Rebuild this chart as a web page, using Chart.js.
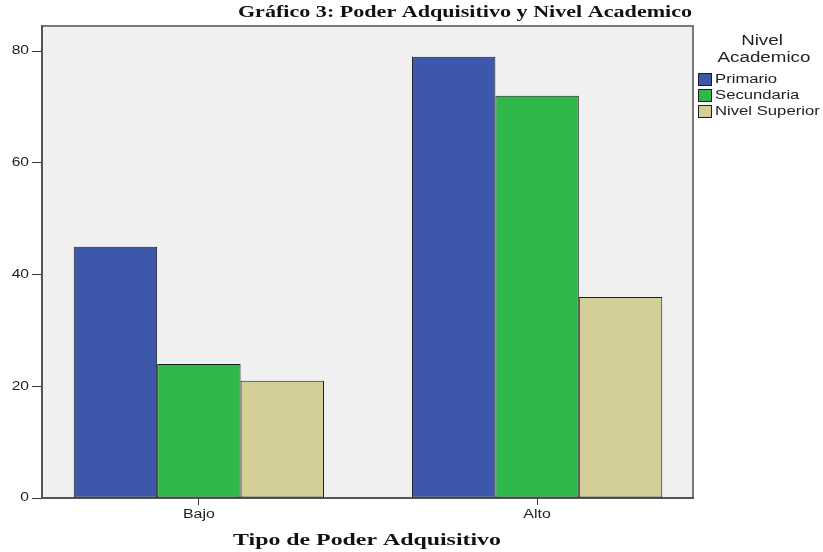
<!DOCTYPE html>
<html>
<head>
<meta charset="utf-8">
<script src="https://cdn.jsdelivr.net/npm/chart.js@4.4.1/dist/chart.umd.min.js"></script>
<style>
html,body{margin:0;padding:0;background:#fff;}
canvas{display:block;}
</style>
</head>
<body>
<canvas id="c" width="823" height="552"></canvas>
<script>
// ---- Data ----
const categories = ["Bajo", "Alto"];
const seriesNames = ["Primario", "Secundaria", "Nivel Superior"];
const primario = [45, 79];
const secundaria = [24, 72];
const nivelSuperior = [21, 36];
const yTicks = [0, 20, 40, 60, 80];

const chartTitle = "Gráfico 3: Poder Adquisitivo y Nivel Academico";
const xTitle = "Tipo de Poder Adquisitivo";
const legendTitle = ["Nivel", "Academico"];

const colors = ["#3d58aa", "#2eb84a", "#d4cf98"];
const seriesValues = [primario, secundaria, nivelSuperior];

const datasets = seriesNames.map((name, s) => ({
  label: name,
  data: categories.map((c, i) => ({ x: i, y: seriesValues[s][i] })),
  backgroundColor: colors[s],
  borderColor: "#1e1e1e",
  borderWidth: 1,
  borderSkipped: false,
  barPercentage: 1.0,
  categoryPercentage: 0.74
}));

function stretchedText(ctx, text, x, y, align, font, color, sx) {
  ctx.save();
  ctx.font = font;
  ctx.fillStyle = color;
  ctx.textBaseline = "middle";
  ctx.textAlign = align;
  ctx.translate(x, y);
  ctx.scale(sx, 1);
  ctx.fillText(text, 0, 0);
  ctx.restore();
}

const decor = {
  id: "decor",
  beforeDraw(chart) {
    const { ctx, chartArea: a } = chart;
    ctx.save();
    ctx.fillStyle = "#f0f0f0";
    ctx.fillRect(a.left, a.top, a.right - a.left, a.bottom - a.top);
    ctx.strokeStyle = "#7a7a7a";
    ctx.lineWidth = 2;
    ctx.beginPath();
    ctx.moveTo(a.left, a.top);
    ctx.lineTo(a.right, a.top);
    ctx.lineTo(a.right, a.bottom);
    ctx.stroke();
    ctx.restore();
  },
  afterDraw(chart) {
    const { ctx, chartArea: a } = chart;
    const xs = chart.scales.x, ys = chart.scales.y;
    // Tick labels (drawn at the library's scale positions, stretched like the reference)
    ys.ticks.forEach(t => {
      stretchedText(ctx, String(t.value), a.left - 13, ys.getPixelForValue(t.value), "right", "12px 'Liberation Sans'", "#222", 1.3);
    });
    xs.ticks.forEach(t => {
      stretchedText(ctx, categories[t.value], xs.getPixelForValue(t.value), 515, "center", "12px 'Liberation Sans'", "#222", 1.33);
    });
    // Title
    stretchedText(ctx, chartTitle, 465, 13, "center", "bold 17px 'Liberation Serif'", "#111", 1.30);
    // X axis title
    stretchedText(ctx, xTitle, 367, 541, "center", "bold 16px 'Liberation Serif'", "#111", 1.49);
    // Legend
    stretchedText(ctx, legendTitle[0], 762, 41, "center", "14px 'Liberation Sans'", "#222", 1.34);
    stretchedText(ctx, legendTitle[1], 764, 58, "center", "14px 'Liberation Sans'", "#222", 1.34);
    seriesNames.forEach((name, i) => {
      const y = 80 + i * 16;
      ctx.save();
      ctx.fillStyle = colors[i];
      ctx.fillRect(698.5, y - 6.5, 13, 12);
      ctx.strokeStyle = "#1e1e1e";
      ctx.lineWidth = 1;
      ctx.strokeRect(698.5, y - 6.5, 13, 12);
      ctx.restore();
      stretchedText(ctx, name, 715, y, "left", "12px 'Liberation Sans'", "#222", 1.39);
    });
  }
};

new Chart(document.getElementById("c"), {
  type: "bar",
  data: { datasets },
  options: {
    responsive: false,
    animation: false,
    layout: { padding: { left: 0, top: 26, right: 130, bottom: 0 } },
    plugins: { legend: { display: false }, title: { display: false }, tooltip: { enabled: false } },
    scales: {
      x: {
        type: "linear",
        offset: false,
        min: -0.4638,
        max: 1.4609,
        afterBuildTicks(scale) { scale.ticks = categories.map((c, i) => ({ value: i })); },
        afterFit(scale) { scale.height = 54; },
        ticks: { display: false },
        grid: { display: true, offset: false, drawOnChartArea: false, drawTicks: true, tickLength: 7, color: "#333", lineWidth: 1 },
        border: { display: true, color: "#555", width: 2 }
      },
      y: {
        min: 0,
        max: 84.5,
        afterBuildTicks(scale) { scale.ticks = yTicks.map(v => ({ value: v })); },
        afterFit(scale) { scale.width = 42; },
        ticks: { display: false },
        grid: { display: true, drawOnChartArea: false, drawTicks: true, tickLength: 10, color: "#333", lineWidth: 1 },
        border: { display: true, color: "#555", width: 2 }
      }
    }
  },
  plugins: [decor]
});
</script>
</body>
</html>
